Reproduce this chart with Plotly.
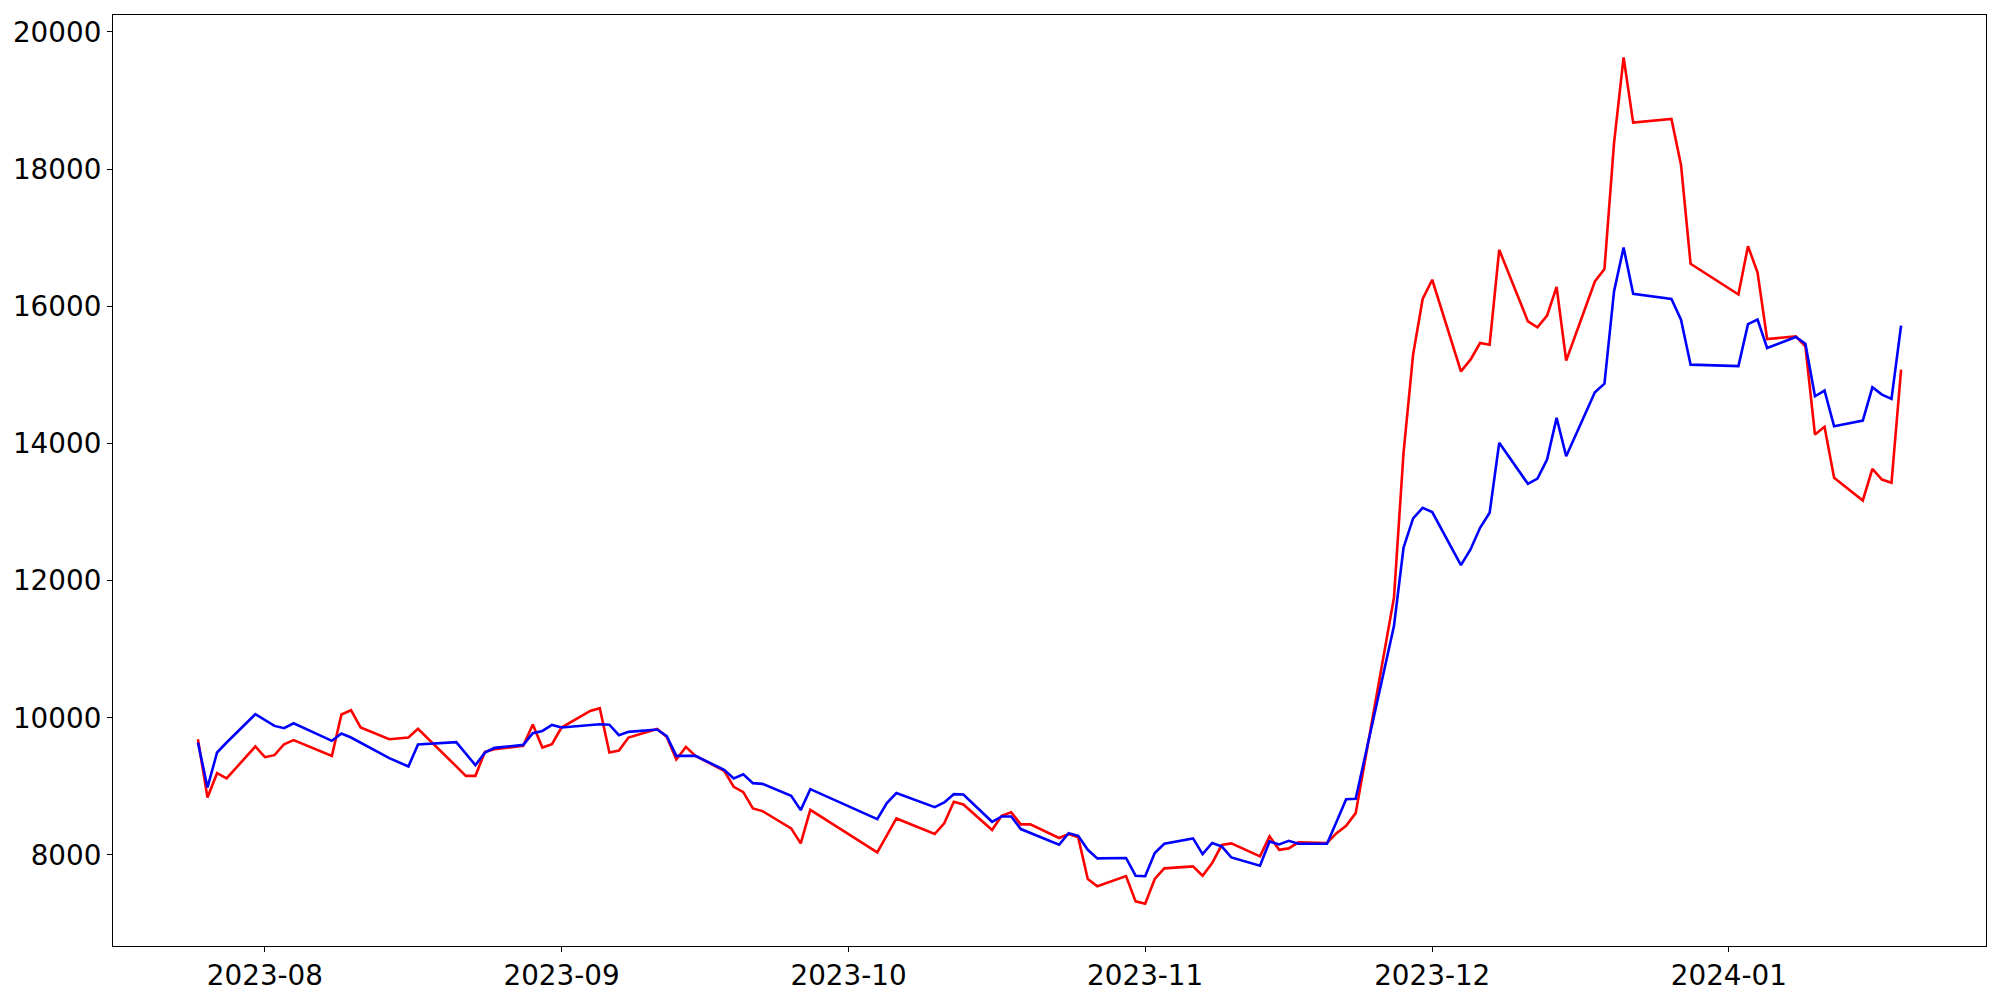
import plotly.graph_objects as go

dates = [
    "2023-07-25", "2023-07-26", "2023-07-27", "2023-07-28", "2023-07-31",
    "2023-08-01", "2023-08-02", "2023-08-03", "2023-08-04", "2023-08-08",
    "2023-08-09", "2023-08-10", "2023-08-11", "2023-08-14", "2023-08-16",
    "2023-08-17", "2023-08-21", "2023-08-22", "2023-08-23", "2023-08-24",
    "2023-08-25", "2023-08-28", "2023-08-29", "2023-08-30", "2023-08-31",
    "2023-09-01", "2023-09-04", "2023-09-05", "2023-09-06", "2023-09-07",
    "2023-09-08", "2023-09-11", "2023-09-12", "2023-09-13", "2023-09-14",
    "2023-09-15", "2023-09-18", "2023-09-19", "2023-09-20", "2023-09-21",
    "2023-09-22", "2023-09-25", "2023-09-26", "2023-09-27", "2023-10-04",
    "2023-10-05", "2023-10-06", "2023-10-10", "2023-10-11", "2023-10-12",
    "2023-10-13", "2023-10-16", "2023-10-17", "2023-10-18", "2023-10-19",
    "2023-10-20", "2023-10-23", "2023-10-24", "2023-10-25", "2023-10-26",
    "2023-10-27", "2023-10-30", "2023-10-31", "2023-11-01", "2023-11-02",
    "2023-11-03", "2023-11-06", "2023-11-07", "2023-11-08", "2023-11-09",
    "2023-11-10", "2023-11-13", "2023-11-14", "2023-11-15", "2023-11-16",
    "2023-11-17", "2023-11-20", "2023-11-21", "2023-11-22", "2023-11-23",
    "2023-11-27", "2023-11-28", "2023-11-29", "2023-11-30", "2023-12-01",
    "2023-12-04", "2023-12-05", "2023-12-06", "2023-12-07", "2023-12-08",
    "2023-12-11", "2023-12-12", "2023-12-13", "2023-12-14", "2023-12-15",
    "2023-12-18", "2023-12-19", "2023-12-20", "2023-12-21", "2023-12-22",
    "2023-12-26", "2023-12-27", "2023-12-28", "2024-01-02", "2024-01-03",
    "2024-01-04", "2024-01-05", "2024-01-08", "2024-01-09", "2024-01-10",
    "2024-01-11", "2024-01-12", "2024-01-15", "2024-01-16", "2024-01-17",
    "2024-01-18", "2024-01-19",
]

red_values = [
    9688, 8839, 9193, 9116, 9582,
    9426, 9455, 9615, 9674, 9445,
    10048, 10111, 9859, 9688, 9713,
    9839, 9292, 9154, 9154, 9504,
    9543, 9591, 9902, 9567, 9615,
    9858, 10100, 10140, 9494, 9522,
    9713, 9836, 9720, 9392, 9576,
    9445, 9227, 8994, 8916, 8679,
    8640, 8388, 8170, 8659, 8039,
    8290, 8533, 8305, 8461, 8776,
    8737, 8363, 8572, 8621, 8446,
    8446, 8247, 8305, 8257, 7650,
    7543, 7693, 7324, 7290, 7650,
    7805, 7834, 7698, 7882, 8145,
    8169, 7980, 8271, 8076, 8096,
    8184, 8175, 8319, 8426, 8610,
    11752, 13863, 15295, 16106, 16387,
    15052, 15222, 15465, 15440, 16824,
    15780, 15692, 15863, 16281, 15207,
    16362, 16543, 18378, 19630, 18678,
    18732, 18062, 16620, 16172, 16877,
    16493, 15523, 15561, 15416, 14130,
    14242, 13499, 13169, 13630, 13474,
    13426, 15076,
]

blue_values = [
    9640, 8985, 9494, 9640, 10052,
    9969, 9882, 9848, 9921, 9664,
    9771, 9713, 9640, 9412, 9291,
    9611, 9645, 9480, 9310, 9494,
    9562, 9605, 9776, 9809, 9897,
    9858, 9892, 9907, 9900, 9747,
    9795, 9829, 9733, 9445, 9445,
    9445, 9241, 9116, 9178, 9047,
    9037, 8863, 8654, 8960, 8523,
    8756, 8902, 8698, 8766, 8887,
    8882, 8484, 8562, 8562, 8378,
    8319, 8149, 8319, 8280, 8076,
    7951, 7956, 7698, 7690, 8028,
    8164, 8242, 8013, 8175, 8125,
    7965, 7843, 8198, 8154, 8207,
    8164, 8164, 8484, 8814, 8819,
    11338, 12480, 12907, 13062, 12999,
    12227, 12455, 12771, 12989, 14009,
    13411, 13489, 13766, 14373, 13814,
    14746, 14872, 16217, 16858, 16183,
    16106, 15805, 15149, 15128, 15740,
    15805, 15392, 15552, 15455, 14688,
    14771, 14251, 14334, 14819, 14712,
    14649, 15717,
]

x_tick_vals = ["2023-08-01", "2023-09-01", "2023-10-01", "2023-11-01", "2023-12-01", "2024-01-01"]
x_tick_text = ["2023-08", "2023-09", "2023-10", "2023-11", "2023-12", "2024-01"]
y_tick_vals = [8000, 10000, 12000, 14000, 16000, 18000, 20000]

fig = go.Figure()
fig.add_trace(go.Scatter(x=dates, y=red_values, mode="lines",
                         line=dict(color="#ff0000", width=2.6), showlegend=False))
fig.add_trace(go.Scatter(x=dates, y=blue_values, mode="lines",
                         line=dict(color="#0000ff", width=2.6), showlegend=False))

axis_common = dict(
    showline=True, linecolor="black", linewidth=1.1, mirror=True,
    ticks="outside", ticklen=5, tickwidth=1.1, tickcolor="black",
    showgrid=False, zeroline=False, automargin=False,
    tickfont=dict(family="DejaVu Sans", size=27.8, color="black"),
)

fig.update_layout(
    width=2000, height=1000,
    margin=dict(l=113, r=14, t=15, b=54, autoexpand=False),
    paper_bgcolor="white", plot_bgcolor="white",
    xaxis=dict(type="date", range=["2023-07-16 03:00", "2024-01-27 21:00"],
               tickvals=x_tick_vals, ticktext=x_tick_text, **axis_common),
    yaxis=dict(range=[6673, 20247], tickvals=y_tick_vals, tickformat="d", **axis_common),
)

fig.write_html("out.html", config={"displayModeBar": False},
               post_script="document.body.style.margin='0';")
